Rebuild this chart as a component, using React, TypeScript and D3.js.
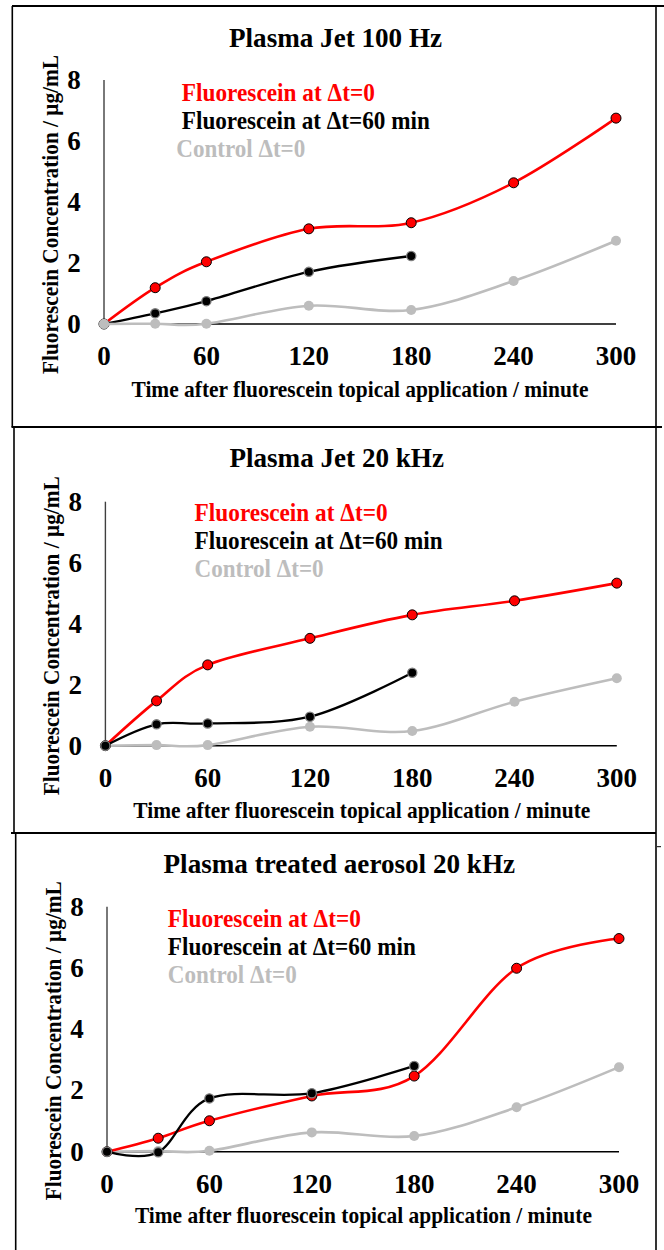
import React from 'react';
import * as d3 from 'd3';

// ---------- data ----------
const times = [0, 30, 60, 120, 180, 240, 300];
const timesShort = [0, 30, 60, 120, 180];
const xTicks = [0, 60, 120, 180, 240, 300];
const yTicks = [0, 2, 4, 6, 8];

const titles = ['Plasma Jet 100 Hz', 'Plasma Jet 20 kHz', 'Plasma treated aerosol 20 kHz'];
const legendLabels = ['Fluorescein at \u0394t=0', 'Fluorescein at \u0394t=60 min', 'Control \u0394t=0'];
const xAxisTitle = 'Time after fluorescein topical application / minute';
const yAxisTitle = 'Fluorescein Concentration / \u03bcg/mL';

const p1Red = [0, 1.19, 2.04, 3.12, 3.32, 4.63, 6.75];
const p1Black = [0, 0.35, 0.75, 1.71, 2.23];
const p1Gray = [0, 0.01, 0.01, 0.6, 0.46, 1.41, 2.73];

const p2Red = [0, 1.47, 2.65, 3.52, 4.29, 4.75, 5.33];
const p2Black = [0, 0.7, 0.73, 0.95, 2.39];
const p2Gray = [0, 0.02, 0.02, 0.62, 0.48, 1.44, 2.21];

const p3Red = [0, 0.44, 1.01, 1.82, 2.47, 5.99, 6.96];
const p3Black = [0, -0.02, 1.74, 1.91, 2.8];
const p3Gray = [0, 0.02, 0.03, 0.63, 0.51, 1.45, 2.76];

// ---------- layout ----------
const FONT = '"Liberation Serif", "Times New Roman", serif';
const RED = '#ff0000';
const GRAY = '#bdbdbd';

type PanelCfg = {
  title: string;
  red: number[];
  black: number[];
  gray: number[];
  order: string[];
  xL: number; xR: number; yZero: number; yTop: number;
  titleX: number; titleY: number; titleW: number;
  legX: number; legGrayX: number; legY: number;
  xtX: number; xtY: number;
  ytX: number; ytY: number;
};

const panels: PanelCfg[] = [
  {
    title: titles[0], red: p1Red, black: p1Black, gray: p1Gray, order: ['red', 'black', 'gray'],
    xL: 104, xR: 616, yZero: 324, yTop: 80,
    titleX: 335.5, titleY: 46.5, titleW: 213,
    legX: 181.8, legGrayX: 176.3, legY: 101,
    xtX: 360, xtY: 397.3, ytX: 57.5, ytY: 214.5,
  },
  {
    title: titles[1], red: p2Red, black: p2Black, gray: p2Gray, order: ['gray', 'red', 'black'],
    xL: 105.4, xR: 616.8, yZero: 745.7, yTop: 501.7,
    titleX: 336.7, titleY: 466.7, titleW: 214.6,
    legX: 194.6, legGrayX: 194.6, legY: 521,
    xtX: 361.8, xtY: 818.3, ytX: 58.8, ytY: 635.8,
  },
  {
    title: titles[2], red: p3Red, black: p3Black, gray: p3Gray, order: ['gray', 'red', 'black'],
    xL: 107, xR: 619, yZero: 1151.7, yTop: 906.7,
    titleX: 339.3, titleY: 873.3, titleW: 351.5,
    legX: 167.8, legGrayX: 167.8, legY: 926.7,
    xtX: 363.4, xtY: 1223.3, ytX: 60.9, ytY: 1040.8,
  },
];

function Panel({ p }: { p: PanelCfg }) {
  const x = d3.scaleLinear().domain([0, 300]).range([p.xL, p.xR]);
  const y = d3.scaleLinear().domain([0, 8]).range([p.yZero, p.yTop]);
  const line = d3
    .line<[number, number]>()
    .x((d) => x(d[0]))
    .y((d) => y(d[1]))
    .curve(d3.curveCardinal.tension(0));

  const series: Record<string, { pts: [number, number][]; stroke: string; width: number; mFill: string; mStroke: string; mW: number; r: number }> = {
    red: { pts: times.map((t, i) => [t, p.red[i]]), stroke: RED, width: 2.6, mFill: RED, mStroke: '#000', mW: 1, r: 5 },
    black: { pts: timesShort.map((t, i) => [t, p.black[i]]), stroke: '#000', width: 2.3, mFill: '#000', mStroke: '#7f7f7f', mW: 1.3, r: 4.6 },
    gray: { pts: times.map((t, i) => [t, p.gray[i]]), stroke: GRAY, width: 2.6, mFill: GRAY, mStroke: 'none', mW: 0, r: 5 },
  };

  return (
    <g>
      <text x={p.titleX} y={p.titleY} textAnchor="middle" fontFamily={FONT} fontWeight="bold" fontSize={27}
        textLength={p.titleW} lengthAdjust="spacingAndGlyphs">{p.title}</text>

      {/* axes */}
      <line x1={x(0)} x2={x(0)} y1={y(0)} y2={y(8)} stroke="#404040" strokeWidth={1.4} />
      <line x1={x(0)} x2={x(300)} y1={y(0)} y2={y(0)} stroke="#000" strokeWidth={1.5} />

      {yTicks.map((t) => (
        <text key={'y' + t} x={x(0) - 23.3} y={y(t) + 9} textAnchor="end" fontFamily={FONT} fontWeight="bold" fontSize={27}>{t}</text>
      ))}
      {xTicks.map((t) => (
        <text key={'x' + t} x={x(t)} y={y(0) + 41} textAnchor="middle" fontFamily={FONT} fontWeight="bold" fontSize={27}>{t}</text>
      ))}

      <text x={p.xtX} y={p.xtY} textAnchor="middle" fontFamily={FONT} fontWeight="bold" fontSize={23}
        textLength={457} lengthAdjust="spacingAndGlyphs">{xAxisTitle}</text>
      <text transform={`translate(${p.ytX},${p.ytY}) rotate(-90)`} textAnchor="middle" fontFamily={FONT} fontWeight="bold" fontSize={23}
        textLength={319} lengthAdjust="spacingAndGlyphs">{yAxisTitle}</text>

      {/* legend */}
      <text x={p.legX} y={p.legY} fill={RED} fontFamily={FONT} fontWeight="bold" fontSize={24.5}
        textLength={193} lengthAdjust="spacingAndGlyphs">{legendLabels[0]}</text>
      <text x={p.legX} y={p.legY + 28.3} fill="#000" fontFamily={FONT} fontWeight="bold" fontSize={24.5}
        textLength={248} lengthAdjust="spacingAndGlyphs">{legendLabels[1]}</text>
      <text x={p.legGrayX} y={p.legY + 56.3} fill={GRAY} fontFamily={FONT} fontWeight="bold" fontSize={24.5}
        textLength={129} lengthAdjust="spacingAndGlyphs">{legendLabels[2]}</text>

      {p.order.map((k) => {
        const s = series[k];
        return (
          <g key={k}>
            <path d={line(s.pts) || ''} fill="none" stroke={s.stroke} strokeWidth={s.width} strokeLinejoin="round" strokeLinecap="round" />
            {s.pts.map((d, i) => (
              <circle key={i} cx={x(d[0])} cy={y(d[1])} r={s.r} fill={s.mFill} stroke={s.mStroke} strokeWidth={s.mW} />
            ))}
          </g>
        );
      })}
    </g>
  );
}

export default function App() {
  return (
    <svg width={664} height={1250} style={{ position: 'absolute', left: 0, top: 0, background: '#fff' }}>
      <rect x={0} y={0} width={664} height={1250} fill="#fff" />
      {/* frame lines */}
      <g stroke="#000" fill="none">
        <line x1={12} x2={664} y1={6} y2={6} strokeWidth={2} />
        <line x1={12.3} x2={12.3} y1={6} y2={427} strokeWidth={1.6} />
        <line x1={656} x2={656} y1={6} y2={1250} strokeWidth={1.6} />
        <line x1={11.5} x2={662} y1={427} y2={427} strokeWidth={2} />
        <line x1={14} x2={14} y1={427} y2={833} strokeWidth={1.6} />
        <line x1={11} x2={656} y1={833} y2={833} strokeWidth={2} />
        <line x1={15.7} x2={15.7} y1={833} y2={1250} strokeWidth={1.6} />
        <line x1={657} x2={661} y1={846.7} y2={846.7} strokeWidth={1} />
      </g>
      {panels.map((p, i) => (
        <Panel key={i} p={p} />
      ))}
    </svg>
  );
}
